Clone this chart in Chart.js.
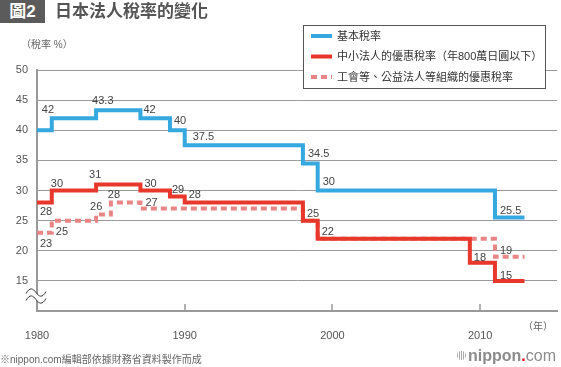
<!DOCTYPE html>
<html>
<head>
<meta charset="utf-8">
<script src="https://cdn.jsdelivr.net/npm/chart.js@4"></script>
<style>
body { margin: 0; background: #fff; font-family: "Liberation Sans", "Noto Sans CJK TC", sans-serif; }
#wrap { position: relative; width: 561px; height: 367px; overflow: hidden; }
#chart { position: absolute; left: 0; top: 0; }
.txt { position: absolute; white-space: nowrap; line-height: 1; }
#badge { left: 0; top: 0; width: 45px; height: 23px; background: #5b5b5b; color: #fff; font-weight: bold; font-size: 17px; line-height: 23px; text-align: center; }
#title { left: 55px; top: 3px; font-size: 17px; font-weight: bold; color: #555; }
#unit { left: 21px; top: 40px; font-size: 10px; color: #666; }
#yearUnit { left: 523px; top: 322px; font-size: 10px; color: #666; }
#source { left: 0; top: 355px; font-size: 10px; color: #666; }
#logo { left: 457px; top: 348px; font-size: 16px; color: #8c8c8c; }
#logo b { font-weight: bold; }
#logo .red { color: #e60012; font-weight: bold; }
#logo .ball { display: inline-block; width: 9px; height: 9px; border-radius: 50%; margin-right: 2px; vertical-align: 1px;
  background: repeating-linear-gradient(90deg, #aaa 0 1px, #fff 1px 2px); }
</style>
</head>
<body>
<div id="wrap">
  <canvas id="chart" width="561" height="367"></canvas>
  <div class="txt" id="badge">圖2</div>
  <div class="txt" id="title">日本法人稅率的變化</div>
  <div class="txt" id="unit">（稅率 %）</div>
  <div class="txt" id="yearUnit">（年）</div>
  <div class="txt" id="source">※nippon.com編輯部依據財務省資料製作而成</div>
  <div class="txt" id="logo"><span class="ball"></span><b>nippon</b><span class="red">.</span>com</div>
</div>
<script>
// 資料：每一段稅率的開始年份與稅率，最後一段延續到 endYear
var endYear = 2013;
var basicYears = [1980, 1981, 1984, 1987, 1989, 1990, 1998, 1999, 2011];
var basicRates = [40, 42, 43.3, 42, 40, 37.5, 34.5, 30, 25.5];
var smeYears = [1980, 1981, 1984, 1987, 1989, 1990, 1998, 1999, 2009.3, 2011];
var smeRates = [28, 30, 31, 30, 29, 28, 25, 22, 18, 15];
var coopYears = [1980, 1981, 1984, 1985, 1987, 1998, 1999, 2011];
var coopRates = [23, 25, 26, 28, 27, 25, 22, 19];
var seriesNames = ['基本稅率', '中小法人的優惠稅率（年800萬日圓以下）', '工會等、公益法人等組織的優惠稅率'];
var xTickYears = [1980, 1990, 2000, 2010];
var yTickValues = [10, 15, 20, 25, 30, 35, 40, 45, 50];

// 數值標籤的位置（相對於每段起點，null = 不顯示）
var labelLayout = [
    [null, [-10, -5], [-4, -6], [3, -5], [4, -6], [8, -5], [5, -6], [5, -6], [5, -4]],
    [[3, 12], [-1, -4], [-7, -6], [4, -4], [2, -4], [4, -5], [4, -4], [4, -4], [4, -2], [5, -2]],
    [[3, 14], [4, 14], [-6, -5], [-3, -5], [5, -3], null, null, [5, -3]]
];

function toPoints(years, rates) {
    var pts = years.map(function (y, i) { return { x: y, y: rates[i] }; });
    pts.push({ x: endYear, y: rates[rates.length - 1] });
    return pts;
}

var BLUE = '#35a8df';
var RED = '#e8382b';
var PINK = '#e98585';
var FONT = '"Liberation Sans", "Noto Sans CJK TC", sans-serif';

var labelPlugin = {
    id: 'stepLabels',
    afterDatasetsDraw: function (chart) {
        var ctx = chart.ctx;
        ctx.save();
        ctx.font = '11px ' + FONT;
        ctx.fillStyle = '#444';
        ctx.textAlign = 'left';
        ctx.textBaseline = 'alphabetic';
        chart.data.datasets.forEach(function (ds, di) {
            var meta = chart.getDatasetMeta(di);
            labelLayout[di].forEach(function (off, i) {
                if (!off) return;
                var pt = meta.data[i];
                ctx.fillText(String(ds.data[i].y), pt.x + off[0], pt.y + off[1]);
            });
        });
        ctx.restore();
    }
};

var decorPlugin = {
    id: 'decor',
    afterDraw: function (chart) {
        var ctx = chart.ctx;
        var area = chart.chartArea;
        var xs = chart.scales.x, ys = chart.scales.y;
        ctx.save();

        // x 軸的內側刻度
        ctx.strokeStyle = '#999';
        ctx.lineWidth = 1.5;
        xTickYears.slice(1).forEach(function (yr) {
            var px = Math.round(xs.getPixelForValue(yr));
            ctx.beginPath();
            ctx.moveTo(px, area.bottom - 7);
            ctx.lineTo(px, area.bottom);
            ctx.stroke();
        });

        // 省略符號
        var cx = area.left, cy = ys.getPixelForValue(12.4);
        ctx.fillStyle = '#fff';
        ctx.beginPath();
        ctx.moveTo(cx - 11, cy - 3);
        ctx.bezierCurveTo(cx - 7, cy - 10, cx - 4, cy - 8, cx - 1, cy - 4);
        ctx.bezierCurveTo(cx + 2, cy, cx + 5, cy + 2, cx + 9, cy - 5);
        ctx.lineTo(cx + 9, cy + 2);
        ctx.bezierCurveTo(cx + 5, cy + 9, cx + 2, cy + 7, cx - 1, cy + 3);
        ctx.bezierCurveTo(cx - 4, cy - 1, cx - 7, cy - 3, cx - 11, cy + 4);
        ctx.closePath();
        ctx.fill();
        ctx.strokeStyle = '#333';
        ctx.lineWidth = 1;
        [0, 7].forEach(function (dy) {
            ctx.beginPath();
            ctx.moveTo(cx - 11, cy - 3 + dy);
            ctx.bezierCurveTo(cx - 7, cy - 10 + dy, cx - 4, cy - 8 + dy, cx - 1, cy - 4 + dy);
            ctx.bezierCurveTo(cx + 2, cy + dy, cx + 5, cy + 2 + dy, cx + 9, cy - 5 + dy);
            ctx.stroke();
        });

        // 圖例
        var bx = 303.5, by = 25.5, bw = 242, bh = 63;
        ctx.fillStyle = '#fff';
        ctx.fillRect(bx, by, bw, bh);
        ctx.strokeStyle = '#555';
        ctx.lineWidth = 1;
        ctx.strokeRect(bx, by, bw, bh);
        ctx.font = '11px ' + FONT;
        ctx.textBaseline = 'middle';
        chart.data.datasets.forEach(function (ds, i) {
            var ry = 36 + i * 20.5;
            ctx.strokeStyle = ds.borderColor;
            ctx.lineWidth = 4;
            ctx.setLineDash(ds.borderDash || []);
            ctx.beginPath();
            ctx.moveTo(311, ry);
            ctx.lineTo(332, ry);
            ctx.stroke();
            ctx.setLineDash([]);
            ctx.fillStyle = '#333';
            ctx.fillText(ds.label, 337, ry + 0.5);
        });
        ctx.restore();
    }
};

var ctx = document.getElementById('chart').getContext('2d');
var myChart = new Chart(ctx, {
    type: 'line',
    data: {
        datasets: [{
            label: seriesNames[0],
            data: toPoints(basicYears, basicRates),
            borderColor: BLUE,
            borderWidth: 4,
            stepped: 'before'
        }, {
            label: seriesNames[1],
            data: toPoints(smeYears, smeRates),
            borderColor: RED,
            borderWidth: 4,
            stepped: 'before'
        }, {
            label: seriesNames[2],
            data: toPoints(coopYears, coopRates),
            borderColor: PINK,
            borderWidth: 4,
            borderDash: [6, 4],
            stepped: 'before'
        }]
    },
    options: {
        responsive: false,
        animation: false,
        devicePixelRatio: 1,
        layout: { padding: { top: 70, left: 0, right: 4, bottom: 26 } },
        elements: {
            point: { radius: 0, hoverRadius: 0 },
            line: { borderJoinStyle: 'miter', borderCapStyle: 'butt', tension: 0 }
        },
        plugins: { legend: { display: false }, tooltip: { enabled: false } },
        scales: {
            x: {
                type: 'linear',
                min: 1980,
                max: 2015.2,
                afterFit: function (scale) { scale.height = 30; },
                afterBuildTicks: function (scale) {
                    scale.ticks = xTickYears.map(function (v) { return { value: v }; });
                },
                ticks: {
                    callback: function (v) { return String(v); },
                    color: '#555',
                    font: { size: 11, family: FONT },
                    padding: 10,
                    maxRotation: 0,
                    autoSkip: false
                },
                grid: { display: false },
                border: { color: '#999', width: 2 }
            },
            y: {
                min: 10,
                max: 50,
                afterFit: function (scale) { scale.width = 37; },
                afterBuildTicks: function (scale) {
                    scale.ticks = yTickValues.map(function (v) { return { value: v }; });
                },
                ticks: {
                    callback: function (v) { return v === 10 ? '' : String(v); },
                    color: '#555',
                    font: { size: 11, family: FONT },
                    padding: 9
                },
                grid: { color: '#9a9a9a', lineWidth: 1, drawTicks: false },
                border: { color: '#999', width: 2 }
            }
        }
    },
    plugins: [labelPlugin, decorPlugin]
});
</script>
</body>
</html>
